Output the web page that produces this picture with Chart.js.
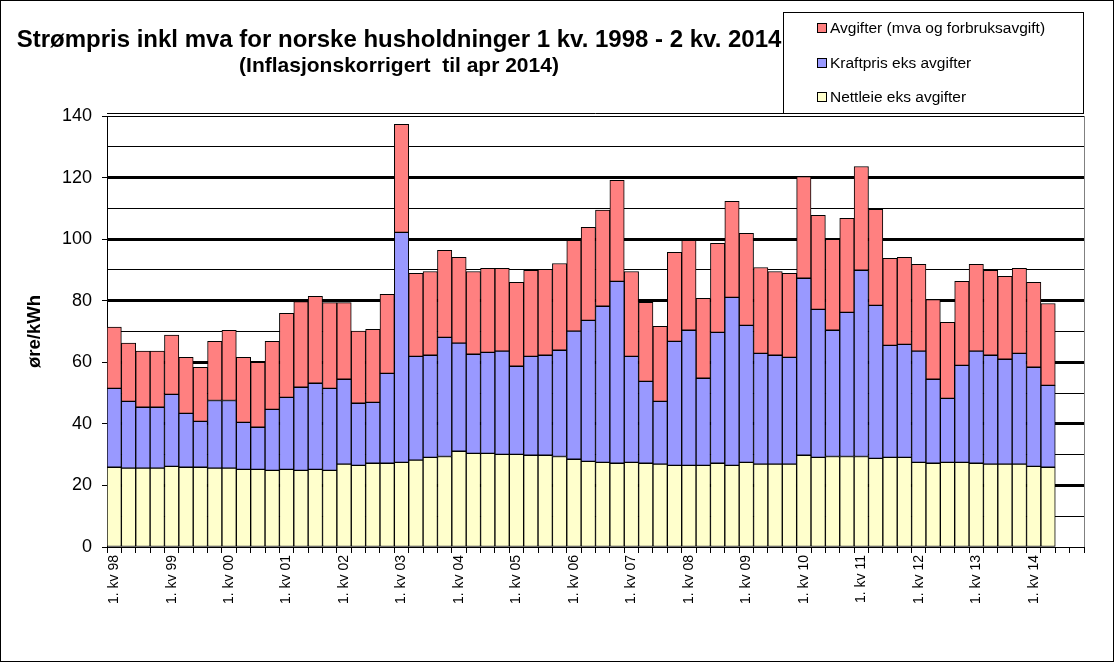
<!DOCTYPE html>
<html>
<head>
<meta charset="utf-8">
<title>Strømpris</title>
<script src="https://cdn.jsdelivr.net/npm/chart.js@4.4.1/dist/chart.umd.min.js"></script>
<style>
  body { margin: 0; background: #fff; }
  canvas { display: block; }
</style>
</head>
<body>
<canvas id="prisChart" width="1114" height="662"></canvas>
<script>
// Tekster
const chartTitle = "Strømpris inkl mva for norske husholdninger 1 kv. 1998 - 2 kv. 2014";
const chartSubtitle = "(Inflasjonskorrigert  til apr 2014)";
const yTitle = "øre/kWh";

// Årstall for kategoriene (4 kvartaler per år)
const years = ["98", "99", "00", "01", "02", "03", "04", "05", "06", "07", "08", "09", "10", "11", "12", "13", "14"];

// Nettleie eks avgifter (øre/kWh), 1 kv. 1998 - 2 kv. 2014
const nettleie = [
  25.9, 25.6, 25.6, 25.6, 26.2, 25.9, 25.9, 25.6, 25.6, 25.2, 25.2, 24.9,
  25.2, 24.9, 25.2, 24.9, 26.9, 26.5, 27.2, 27.2, 27.5, 28.2, 29.1, 29.4,
  31.1, 30.4, 30.4, 30.1, 30.1, 29.8, 29.8, 29.4, 28.5, 27.8, 27.5, 27.2,
  27.5, 27.2, 26.9, 26.5, 26.5, 26.5, 27.2, 26.5, 27.5, 26.9, 26.9, 26.9,
  29.8, 29.1, 29.4, 29.4, 29.4, 28.8, 29.1, 29.1, 27.5, 27.2, 27.5, 27.5,
  27.2, 26.9, 26.9, 26.9, 26.2, 25.9
];

// Kraftpris eks avgifter
const kraftpris = [
  25.6, 21.7, 19.8, 19.8, 23.4, 17.5, 14.9, 22.0, 22.0, 15.3, 13.7, 19.8,
  23.4, 27.0, 28.0, 26.6, 27.6, 20.2, 19.8, 29.2, 74.7, 33.7, 33.2, 38.7,
  35.1, 32.2, 32.8, 33.5, 28.6, 32.1, 32.5, 34.5, 41.6, 45.8, 50.7, 59.1,
  34.4, 26.6, 20.4, 40.3, 43.9, 28.3, 42.5, 54.6, 44.5, 36.0, 35.4, 34.7,
  57.5, 48.1, 41.0, 46.8, 60.5, 49.7, 36.4, 36.7, 36.1, 27.3, 20.8, 31.5,
  36.4, 35.4, 34.1, 36.0, 32.2, 26.6
];

// Avgifter (mva og forbruksavgift)
const avgifter = [
  19.9, 18.9, 18.2, 18.2, 19.2, 18.2, 17.6, 19.2, 22.8, 21.1, 21.1, 22.1,
  27.3, 27.8, 28.2, 27.9, 24.9, 23.4, 23.7, 25.7, 35.1, 27.0, 27.2, 28.3,
  27.9, 26.9, 27.3, 26.9, 27.3, 28.0, 27.9, 28.2, 29.5, 30.2, 31.2, 32.8,
  27.6, 25.7, 24.4, 28.9, 29.2, 26.0, 28.9, 31.2, 29.9, 27.9, 27.2, 27.3,
  33.0, 30.5, 29.5, 30.6, 33.7, 31.2, 28.3, 28.3, 28.2, 25.9, 24.7, 27.3,
  28.2, 27.6, 26.9, 27.6, 27.6, 26.6
];

// Bare 1. kvartal får etikett
const labels = [];
years.forEach(y => {
  labels.push("1. kv " + y, "", "", "");
});

const fontFam = "'Liberation Sans', Arial, sans-serif";

// Tittel, legende og rammer tegnes selv
const decorPlugin = {
  id: "decor",
  afterDraw(chart) {
    const c = chart.ctx;
    const area = chart.chartArea;
    c.save();
    c.lineWidth = 1;

    // høyre kant av plottet
    c.strokeStyle = "#808080";
    c.beginPath();
    c.moveTo(Math.round(area.right) + 0.5, area.top);
    c.lineTo(Math.round(area.right) + 0.5, area.bottom);
    c.stroke();

    // dobbel linje øverst
    c.strokeStyle = "#000";
    c.beginPath();
    c.moveTo(area.left, Math.round(area.top) - 2.5);
    c.lineTo(area.right, Math.round(area.top) - 2.5);
    c.stroke();

    // tittel
    c.fillStyle = "#000";
    c.textAlign = "center";
    c.textBaseline = "alphabetic";
    c.font = "bold 24px " + fontFam;
    c.fillText(chartTitle, 399, 47);
    c.font = "bold 21px " + fontFam;
    c.fillText(chartSubtitle, 399, 72);

    // legende
    c.fillStyle = "#fff";
    c.fillRect(783, 12, 300, 101);
    c.strokeStyle = "#000";
    c.strokeRect(783.5, 12.5, 300, 101);
    const rows = [28, 63, 97];
    const ds = chart.data.datasets.slice().reverse();
    c.textAlign = "left";
    c.textBaseline = "middle";
    c.font = "15.5px " + fontFam;
    ds.forEach((d, i) => {
      const y = rows[i];
      c.fillStyle = d.backgroundColor;
      c.fillRect(818, y - 4, 8, 8);
      c.strokeRect(817.5, y - 4.5, 9, 9);
      c.fillStyle = "#000";
      c.fillText(d.label, 830, y + 1);
    });

    // ytre ramme
    c.strokeRect(0.5, 0.5, chart.width - 1, chart.height - 1);
    c.restore();
  }
};

const ctx = document.getElementById("prisChart").getContext("2d");

const prisChart = new Chart(ctx, {
  type: "bar",
  data: {
    labels: labels,
    datasets: [
      {
        label: "Nettleie eks avgifter",
        data: nettleie,
        backgroundColor: "#FFFFCC",
        borderColor: "#000",
        borderWidth: 1,
        borderSkipped: false
      },
      {
        label: "Kraftpris eks avgifter",
        data: kraftpris,
        backgroundColor: "#9999FF",
        borderColor: "#000",
        borderWidth: 1,
        borderSkipped: false
      },
      {
        label: "Avgifter (mva og forbruksavgift)",
        data: avgifter,
        backgroundColor: "#FF8080",
        borderColor: "#000",
        borderWidth: 1,
        borderSkipped: false
      }
    ]
  },
  options: {
    responsive: false,
    animation: false,
    devicePixelRatio: 1,
    datasets: {
      bar: { barPercentage: 1.0, categoryPercentage: 1.0 }
    },
    layout: {
      padding: { top: 116, right: 30, left: 0, bottom: 0 }
    },
    plugins: {
      legend: { display: false },
      title: { display: false },
      tooltip: { enabled: false }
    },
    scales: {
      x: {
        stacked: true,
        afterFit(scale) { scale.height = 115; },
        grid: {
          offset: true,
          drawOnChartArea: false,
          drawTicks: true,
          tickLength: 6,
          color: "#000"
        },
        border: { color: "#000", width: 1 },
        ticks: {
          autoSkip: false,
          maxRotation: 90,
          minRotation: 90,
          padding: 2,
          color: "#000",
          font: { family: fontFam, size: 14 }
        }
      },
      y: {
        stacked: true,
        min: 0,
        max: 140,
        afterFit(scale) { scale.width = 107; },
        grid: {
          color: "#000",
          lineWidth: (c) => {
            const v = c.tick ? c.tick.value : 0;
            if (v === 0) return 1;
            if (v === 140) return 1;
            return v % 20 === 0 ? 3 : 1;
          },
          tickColor: (c) => (c.tick && c.tick.value % 20 === 0) ? "#000" : "rgba(0,0,0,0)",
          tickWidth: 1,
          tickLength: 5
        },
        border: { color: "#000", width: 1 },
        ticks: {
          stepSize: 10,
          padding: 10,
          color: "#000",
          font: { family: fontFam, size: 18 },
          callback: (v) => (v % 20 === 0 ? v : "")
        },
        title: {
          display: true,
          text: yTitle,
          color: "#000",
          font: { family: fontFam, size: 18.5, weight: "bold" },
          padding: { top: 24, bottom: 0 }
        }
      }
    }
  },
  plugins: [decorPlugin]
});
</script>
</body>
</html>
